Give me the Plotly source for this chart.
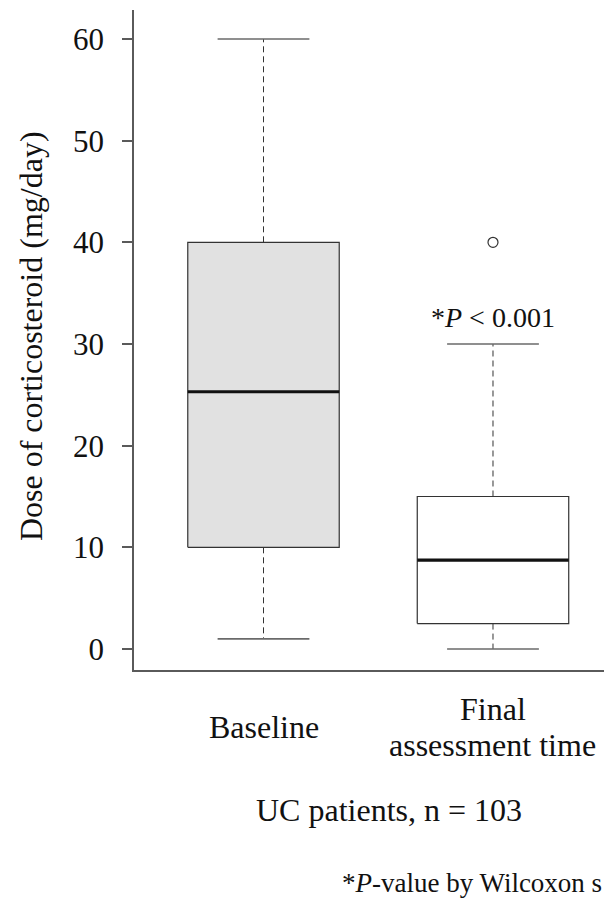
import plotly.graph_objects as go

# ---- data ----
categories = ["Baseline", "Final assessment time"]
cat_label_lines = [["Baseline"], ["Final", "assessment time"]]
whisker_low = [1, 0]
q1 = [10, 2.5]
median = [25.3, 8.75]
q3 = [40, 15]
whisker_high = [60, 30]
outliers = [[], [40]]
box_fill = ["#e1e1e1", "#ffffff"]
y_ticks = [0, 10, 20, 30, 40, 50, 60]

# ---- styling constants ----
FONT = "Liberation Serif"
HALF_BOX = 0.33
HALF_CAP = 0.2
EDGE = "#333333"
CAP = "#6a6a6a"
AXIS = "#5a5a5a"
LINE_GAP = 36  # px between stacked label lines

fig = go.Figure()
for i, cat in enumerate(categories):
    c = i + 1
    # box
    fig.add_trace(go.Scatter(
        x=[c - HALF_BOX, c + HALF_BOX, c + HALF_BOX, c - HALF_BOX, c - HALF_BOX],
        y=[q1[i], q1[i], q3[i], q3[i], q1[i]],
        mode="lines", fill="toself", fillcolor=box_fill[i],
        line=dict(color=EDGE, width=1.2), hoverinfo="skip", showlegend=False))
    # median
    fig.add_trace(go.Scatter(
        x=[c - HALF_BOX, c + HALF_BOX], y=[median[i], median[i]],
        mode="lines", line=dict(color="#111111", width=3.2),
        hoverinfo="skip", showlegend=False))
    # whiskers (dashed)
    fig.add_trace(go.Scatter(
        x=[c, c], y=[q3[i], whisker_high[i]], mode="lines",
        line=dict(color=EDGE, width=1, dash="6px,4px"),
        hoverinfo="skip", showlegend=False))
    fig.add_trace(go.Scatter(
        x=[c, c], y=[q1[i], whisker_low[i]], mode="lines",
        line=dict(color=EDGE, width=1, dash="6px,4px"),
        hoverinfo="skip", showlegend=False))
    # caps
    for v in (whisker_low[i], whisker_high[i]):
        fig.add_trace(go.Scatter(
            x=[c - HALF_CAP, c + HALF_CAP], y=[v, v], mode="lines",
            line=dict(color=CAP, width=1.6), hoverinfo="skip", showlegend=False))
    # outliers
    if outliers[i]:
        fig.add_trace(go.Scatter(
            x=[c] * len(outliers[i]), y=outliers[i], mode="markers",
            marker=dict(symbol="circle-open", size=10, color=EDGE, line=dict(width=1.2)),
            hoverinfo="skip", showlegend=False))

annotations = []
# category labels (each line separately, stacked around a common centre)
for i, lines in enumerate(cat_label_lines):
    n = len(lines)
    for j, line in enumerate(lines):
        annotations.append(dict(
            x=i + 1, xref="x", y=-0.086, yref="paper", xanchor="center", yanchor="middle",
            yshift=((n - 1) / 2 - j) * LINE_GAP,
            text=line, showarrow=False,
            font=dict(family=FONT, size=32, color="#111111")))
# y-axis title
annotations.append(dict(
    x=-0.219, xref="paper", y=0.506, yref="paper", textangle=-90,
    xanchor="center", yanchor="middle", showarrow=False,
    text="Dose of corticosteroid (mg/day)",
    font=dict(family=FONT, size=32, color="#111111")))
# significance label
annotations.append(dict(
    x=2, xref="x", y=32.6, yref="y", xanchor="center", yanchor="middle",
    showarrow=False, text="*<i>P</i> &lt; 0.001",
    font=dict(family=FONT, size=28, color="#111111")))
# group caption
annotations.append(dict(
    x=0.5426, xref="paper", y=-0.212, yref="paper", xanchor="center", yanchor="middle",
    showarrow=False, text="UC patients, n = 103",
    font=dict(family=FONT, size=32, color="#111111")))
# footnote (the reference crops it at the right edge; show the visible part)
annotations.append(dict(
    x=1.0, xref="paper", y=-0.3227, yref="paper", xanchor="right", yanchor="middle",
    showarrow=False, text="*<i>P</i>-value by Wilcoxon s",
    font=dict(family=FONT, size=27, color="#111111")))

fig.update_layout(
    width=604, height=899,
    margin=dict(l=134, r=0, t=10, b=229),
    paper_bgcolor="white", plot_bgcolor="white",
    showlegend=False,
    annotations=annotations,
    xaxis=dict(range=[0.4357, 2.4837], showgrid=False, zeroline=False,
               showticklabels=False, ticks="", showline=True,
               linecolor=AXIS, linewidth=1.5, fixedrange=True),
    yaxis=dict(range=[-2.066, 62.85], showgrid=False, zeroline=False,
               tickmode="array", tickvals=y_ticks, ticktext=[str(t) for t in y_ticks],
               ticks="outside", ticklen=10, tickwidth=1.5, tickcolor=AXIS,
               ticklabelstandoff=12,
               tickfont=dict(family=FONT, size=31, color="#111111"),
               showline=True, linecolor=AXIS, linewidth=1.5, fixedrange=True),
)

fig.write_html("out.html")
